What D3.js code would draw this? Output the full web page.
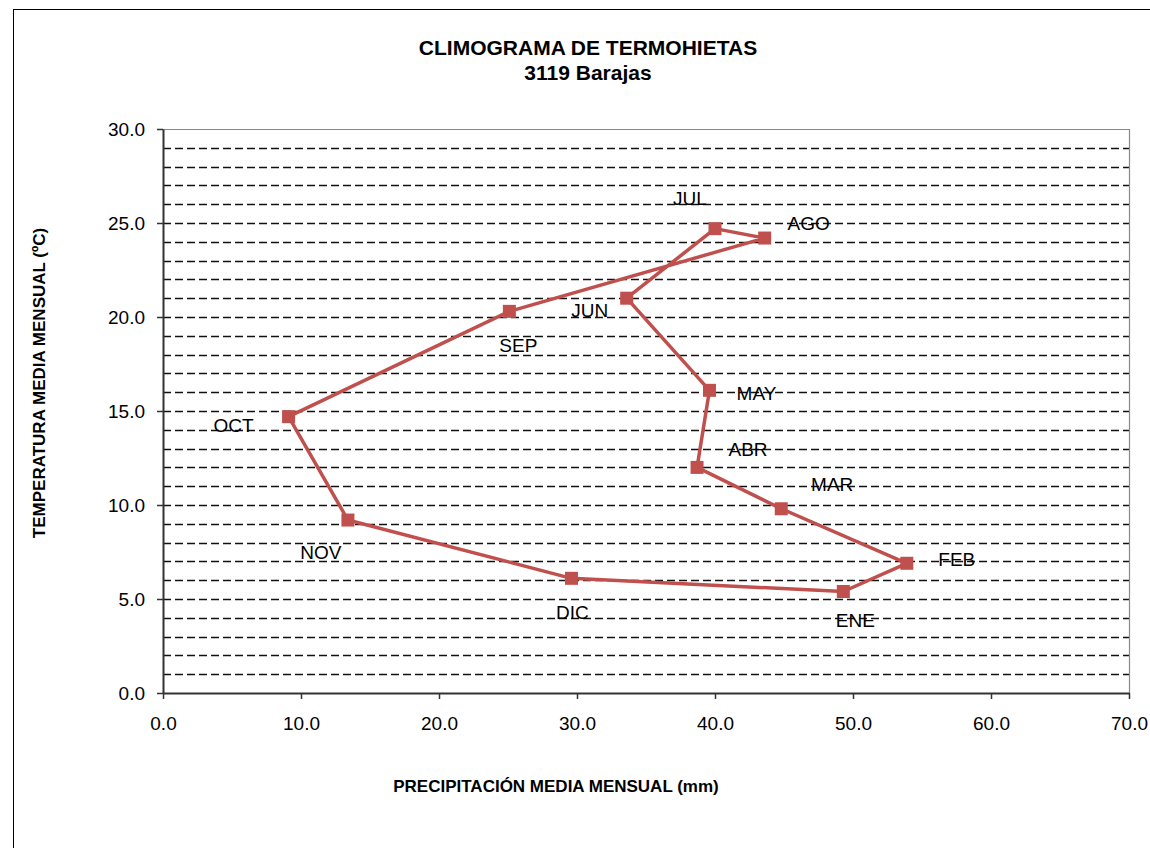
<!DOCTYPE html>
<html>
<head>
<meta charset="utf-8">
<script src="https://cdn.jsdelivr.net/npm/d3@7"></script>
<style>
  body { margin: 0; background: #fff; }
  text { font-family: "Liberation Sans", Arial, sans-serif; }
</style>
</head>
<body>
<div id="chart"></div>
<script>
// monthly climate values, 3119 Barajas
const months = ["ENE", "FEB", "MAR", "ABR", "MAY", "JUN", "JUL", "AGO", "SEP", "OCT", "NOV", "DIC"];
const precip = [49.3, 53.9, 44.8, 38.7, 39.6, 33.6, 40.0, 43.6, 25.1, 9.1, 13.4, 29.6];
const temp = [5.4, 6.9, 9.8, 12.0, 16.1, 21.0, 24.7, 24.2, 20.3, 14.7, 9.2, 6.1];
const xTicks = [0, 10, 20, 30, 40, 50, 60, 70];
const yTicks = [0, 5, 10, 15, 20, 25, 30];

// label placement (pixel offsets from each point)
const labelDx = [12, 50, 51, 51, 47, -37, -25, 44, 9, -55, -27, 1];
const labelDy = [36, 3, -18, -11, 10, 19, -24, -8, 41, 15, 39, 41];

const width = 1150, height = 848;
const margin = { left: 163, right: 21, top: 129, bottom: 155 };

const svg = d3.select("#chart").append("svg")
  .attr("width", width)
  .attr("height", height);

// outer frame
svg.append("rect")
  .attr("x", 13.5).attr("y", 9.5)
  .attr("width", 1200).attr("height", 900)
  .attr("fill", "none").attr("stroke", "#000").attr("stroke-width", 1);

const x = d3.scaleLinear().domain([0, 70]).range([margin.left, width - margin.right]);
const y = d3.scaleLinear().domain([0, 30]).range([height - margin.bottom, margin.top]);

// dashed grid every 1 degree
svg.append("g")
  .selectAll("line")
  .data(d3.range(1, 30))
  .join("line")
  .attr("x1", x(0)).attr("x2", x(70))
  .attr("y1", d => Math.round(y(d)) + 0.5).attr("y2", d => Math.round(y(d)) + 0.5)
  .attr("stroke", "#111")
  .attr("stroke-width", 1.6)
  .attr("stroke-dasharray", "8,4");

// plot border top/right
svg.append("path")
  .attr("d", `M${x(0)},${Math.round(y(30)) + 0.5}H${Math.round(x(70)) + 0.5}V${y(0)}`)
  .attr("fill", "none").attr("stroke", "#888").attr("stroke-width", 1.2);

// axes
const xAxis = svg.append("g")
  .attr("transform", `translate(0, ${y(0)})`)
  .call(d3.axisBottom(x).tickValues(xTicks).tickFormat(d3.format(".1f")).tickSize(6).tickSizeOuter(0).tickPadding(18));
const yAxis = svg.append("g")
  .attr("transform", `translate(${x(0)}, 0)`)
  .call(d3.axisLeft(y).tickValues(yTicks).tickFormat(d3.format(".1f")).tickSize(6).tickSizeOuter(0).tickPadding(12));

[xAxis, yAxis].forEach(g => {
  g.select(".domain").attr("stroke", "#333").attr("stroke-width", 2);
  g.selectAll(".tick line").attr("stroke", "#333").attr("stroke-width", 1.5);
  g.selectAll(".tick text")
    .attr("fill", "#000")
    .style("font-size", "19px")
    .style("font-family", "'Liberation Sans', Arial, sans-serif");
});

// closed loop through the twelve months
const pts = months.map((m, i) => ({ m, p: precip[i], t: temp[i], dx: labelDx[i], dy: labelDy[i] }));
const line = d3.line().x(d => x(d.p)).y(d => y(d.t)).curve(d3.curveLinearClosed);

svg.append("path")
  .datum(pts)
  .attr("d", line)
  .attr("fill", "none")
  .attr("stroke", "#C0504D")
  .attr("stroke-width", 3.5)
  .attr("stroke-linejoin", "round");

svg.append("g")
  .selectAll("rect")
  .data(pts)
  .join("rect")
  .attr("x", d => x(d.p) - 6.5)
  .attr("y", d => y(d.t) - 6.5)
  .attr("width", 13).attr("height", 13)
  .attr("fill", "#C0504D");

svg.append("g")
  .selectAll("text")
  .data(pts)
  .join("text")
  .attr("x", d => x(d.p) + d.dx)
  .attr("y", d => y(d.t) + d.dy)
  .attr("text-anchor", "middle")
  .style("font-size", "19px")
  .attr("fill", "#000")
  .text(d => d.m);

// titles
svg.append("text")
  .attr("x", 588).attr("y", 55)
  .attr("text-anchor", "middle")
  .style("font-size", "21px").style("font-weight", "bold")
  .text("CLIMOGRAMA DE TERMOHIETAS");
svg.append("text")
  .attr("x", 588).attr("y", 80)
  .attr("text-anchor", "middle")
  .style("font-size", "21px").style("font-weight", "bold")
  .text("3119 Barajas");

svg.append("text")
  .attr("x", 556).attr("y", 792)
  .attr("text-anchor", "middle")
  .style("font-size", "17px").style("font-weight", "bold")
  .text("PRECIPITACIÓN MEDIA MENSUAL (mm)");

svg.append("text")
  .attr("transform", "translate(45, 383) rotate(-90)")
  .attr("text-anchor", "middle")
  .style("font-size", "17px").style("font-weight", "bold")
  .text("TEMPERATURA MEDIA MENSUAL (ºC)");
</script>
</body>
</html>
